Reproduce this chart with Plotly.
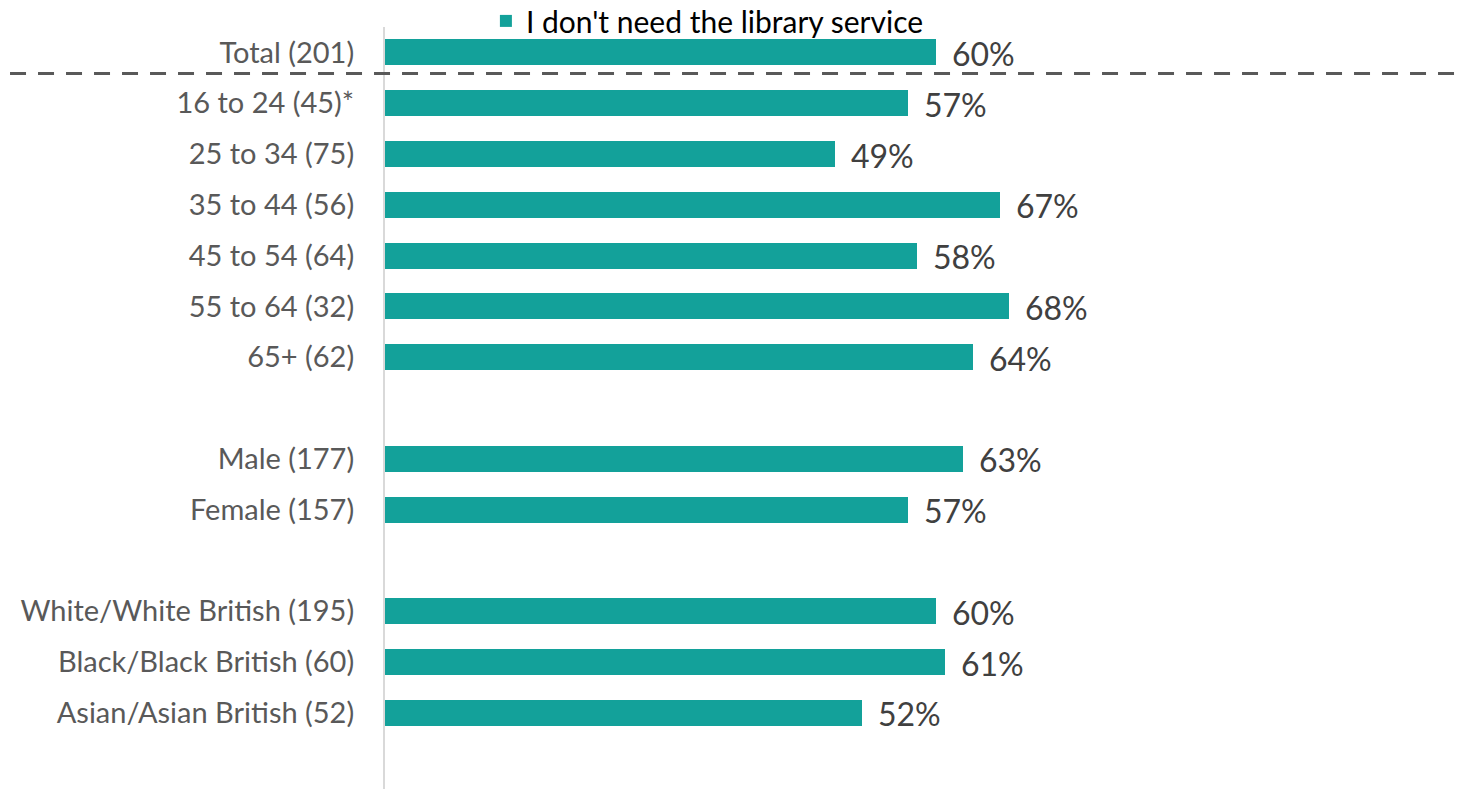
import plotly.graph_objects as go

categories = ["Total (201)", "16 to 24 (45)*", "25 to 34 (75)", "35 to 44 (56)",
              "45 to 54 (64)", "55 to 64 (32)", "65+ (62)",
              "Male (177)", "Female (157)",
              "White/White British (195)", "Black/Black British (60)", "Asian/Asian British (52)"]
slots = [0, 1, 2, 3, 4, 5, 6, 8, 9, 11, 12, 13]
values = [60, 57, 49, 67, 58, 68, 64, 63, 57, 60, 61, 52]
series_name = "I don't need the library service"

BAR = "#13A19A"
FONT = "Lato"

fig = go.Figure()
fig.add_trace(go.Bar(
    x=values, y=slots, orientation="h", name=series_name,
    marker=dict(color=BAR, line=dict(width=0)), width=0.51,
    hoverinfo="skip",
))

for v, s in zip(values, slots):
    fig.add_annotation(x=v, y=s, text=f"{v}%", showarrow=False, xanchor="left",
                       yanchor="middle", xshift=14, yshift=-1,
                       font=dict(family=FONT, size=32, color="#404040"))

fig.add_shape(type="line", xref="paper", yref="y", x0=-0.3456, x1=1.0, y0=0.414, y1=0.414,
              line=dict(color="#595959", width=3, dash="16px,12px"))

fig.update_layout(
    width=1462, height=781,
    margin=dict(l=377, r=0, t=19, b=0, autoexpand=False),
    plot_bgcolor="white", paper_bgcolor="white",
    font=dict(family=FONT),
    showlegend=True,
    legend=dict(orientation="h", x=0.093, xanchor="left", y=1.008, yanchor="middle",
                font=dict(family=FONT, size=30, color="#000000"),
                bgcolor="rgba(0,0,0,0)", itemwidth=30, tracegroupgap=0),
    xaxis=dict(range=[0, 1085 / 9.18], showgrid=False, zeroline=False, showticklabels=False,
               showline=False, fixedrange=True, automargin=False),
    yaxis=dict(range=[14.5, -0.5], tickmode="array", tickvals=slots, ticktext=categories,
               showgrid=False, zeroline=False, showline=True, linecolor="#d9d9d9", linewidth=2,
               ticks="", ticklabelstandoff=23, automargin=False,
               tickfont=dict(family=FONT, size=29, color="#595959"), fixedrange=True),
    bargap=0,
)

fig.write_html("out.html")
